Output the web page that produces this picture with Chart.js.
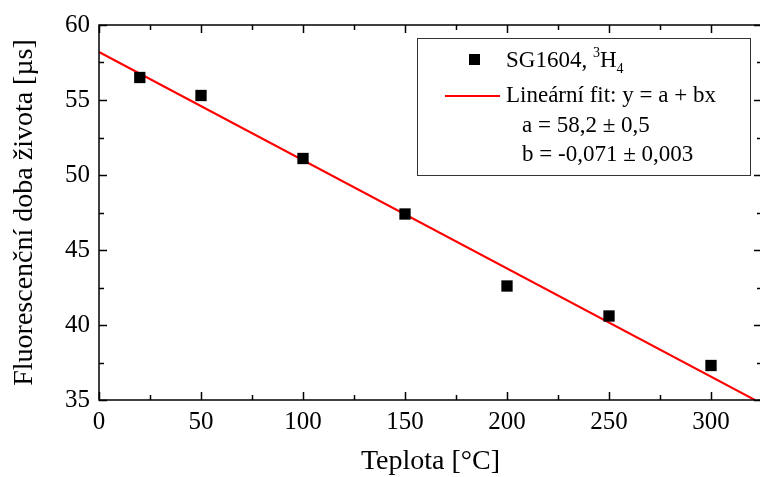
<!DOCTYPE html>
<html>
<head>
<meta charset="utf-8">
<script src="https://cdn.jsdelivr.net/npm/chart.js@4"></script>
<style>
  html, body { margin: 0; padding: 0; background: #fff; overflow: hidden; }
  #wrap { width: 770px; height: 477px; position: relative; }
</style>
</head>
<body>
<div id="wrap"><canvas id="chart-fit"></canvas></div>
<script>
// measured points: temperature [°C] vs lifetime [µs]
const temps = [20, 50, 100, 150, 200, 250, 300];
const lifetimes = [56.5, 55.3, 51.1, 47.4, 42.6, 40.6, 37.3];

// ends of the fitted line
const fitX = [0, 321.5];
const fitY = [58.2, 35];

const legendLines = [
    'Lineární fit: y = a + bx',
    'a = 58,2 ± 0,5',
    'b = -0,071 ± 0,003'
];

const serif = '"Liberation Serif", "Times New Roman", serif';

// frame on all four sides with inward ticks (major + minor)
const frameTicks = {
    id: 'frameTicks',
    afterDraw(chart) {
        const { ctx, chartArea: a } = chart;
        const xs = chart.scales.x, ys = chart.scales.y;
        ctx.save();
        ctx.strokeStyle = '#000';
        ctx.lineWidth = 1.5;
        ctx.strokeRect(a.left, a.top, a.right - a.left, a.bottom - a.top);
        ctx.beginPath();
        for (let v = xs.min; v <= xs.max + 0.001; v += 25) {
            const px = Math.round(xs.getPixelForValue(v)) + 0.5;
            const len = v % 50 === 0 ? 8 : 5;
            ctx.moveTo(px, a.bottom); ctx.lineTo(px, a.bottom - len);
            ctx.moveTo(px, a.top); ctx.lineTo(px, a.top + len);
        }
        for (let v = ys.min; v <= ys.max + 0.001; v += 2.5) {
            const py = Math.round(ys.getPixelForValue(v)) + 0.5;
            const len = v % 5 === 0 ? 8 : 5;
            ctx.moveTo(a.left, py); ctx.lineTo(a.left + len, py);
            ctx.moveTo(a.right, py); ctx.lineTo(a.right - len, py);
        }
        ctx.stroke();
        ctx.restore();
    }
};

// boxed legend like the Origin one
const fitLegend = {
    id: 'fitLegend',
    afterDraw(chart) {
        const { ctx } = chart;
        const bx = 417, by = 38, bw = 333, bh = 137;
        ctx.save();
        ctx.fillStyle = '#fff';
        ctx.fillRect(bx, by, bw, bh);
        ctx.strokeStyle = '#333';
        ctx.lineWidth = 1;
        ctx.strokeRect(bx + 0.5, by + 0.5, bw, bh);

        // marker
        ctx.fillStyle = '#000';
        ctx.fillRect(469, 54, 11, 11);
        // red sample line
        ctx.strokeStyle = '#ff0000';
        ctx.lineWidth = 2;
        ctx.beginPath();
        ctx.moveTo(445, 96); ctx.lineTo(500, 96);
        ctx.stroke();

        ctx.fillStyle = '#000';
        ctx.textBaseline = 'alphabetic';
        ctx.textAlign = 'left';
        ctx.font = '23px ' + serif;
        let x = 506;
        ctx.fillText('SG1604, ', x, 67);
        x += ctx.measureText('SG1604, ').width;
        ctx.font = '14px ' + serif;
        ctx.fillText('3', x, 57);
        x += ctx.measureText('3').width;
        ctx.font = '23px ' + serif;
        ctx.fillText('H', x, 67);
        x += ctx.measureText('H').width;
        ctx.font = '14px ' + serif;
        ctx.fillText('4', x, 73);

        ctx.font = '23px ' + serif;
        ctx.fillText(legendLines[0], 506, 102);
        ctx.fillText(legendLines[1], 522, 132);
        ctx.fillText(legendLines[2], 522, 161);
        ctx.restore();
    }
};

const points = temps.map((t, i) => ({ x: t, y: lifetimes[i] }));
const fitLine = fitX.map((t, i) => ({ x: t, y: fitY[i] }));

new Chart(document.getElementById('chart-fit'), {
    type: 'scatter',
    data: {
        datasets: [{
            label: 'SG1604',
            data: points,
            pointStyle: 'rect',
            pointRadius: 8,
            pointHoverRadius: 8,
            backgroundColor: '#000',
            borderColor: '#000',
            borderWidth: 0,
            order: 1
        }, {
            label: 'fit',
            type: 'line',
            data: fitLine,
            borderColor: '#ff0000',
            borderWidth: 2,
            pointRadius: 0,
            fill: false,
            order: 2
        }]
    },
    options: {
        responsive: true,
        maintainAspectRatio: false,
        animation: false,
        events: [],
        layout: { padding: { top: 25, right: 4, left: 0, bottom: 0 } },
        plugins: {
            legend: { display: false },
            tooltip: { enabled: false }
        },
        scales: {
            x: {
                type: 'linear',
                min: 0,
                max: 325,
                afterFit(s) { s.height = 77; },
                border: { display: false },
                grid: { display: false, drawTicks: false },
                ticks: {
                    stepSize: 50,
                    includeBounds: false,
                    color: '#000',
                    padding: 7,
                    font: { family: serif, size: 25 }
                },
                title: {
                    display: true,
                    text: 'Teplota [°C]',
                    color: '#000',
                    font: { family: serif, size: 28, lineHeight: 1 },
                    padding: { top: 0, bottom: 1 }
                }
            },
            y: {
                min: 35,
                max: 60,
                afterFit(s) { s.width = 99; },
                border: { display: false },
                grid: { display: false, drawTicks: false },
                ticks: {
                    stepSize: 5,
                    color: '#000',
                    padding: 9,
                    font: { family: serif, size: 25 }
                },
                title: {
                    display: true,
                    text: 'Fluorescenční doba života [µs]',
                    color: '#000',
                    font: { family: serif, size: 28, lineHeight: 1 },
                    padding: { top: 11, bottom: 0 }
                }
            }
        }
    },
    plugins: [frameTicks, fitLegend]
});
</script>
</body>
</html>
